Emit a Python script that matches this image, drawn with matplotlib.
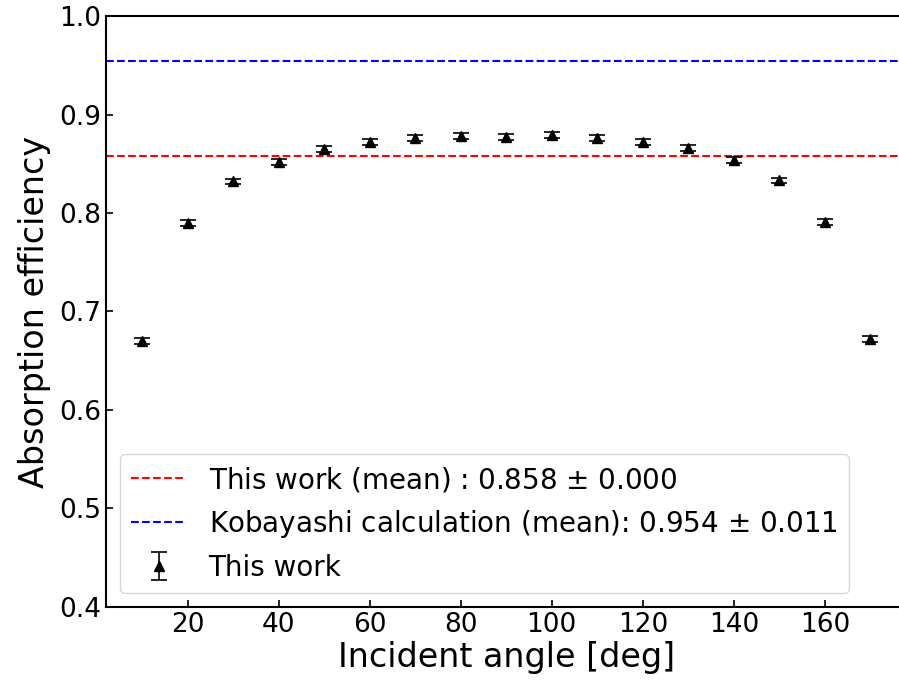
import matplotlib
matplotlib.use("Agg")
import matplotlib.pyplot as plt

# Measured absorption efficiency versus incident angle
angles = [10, 20, 30, 40, 50, 60, 70, 80, 90, 100, 110, 120, 130, 140, 150, 160, 170]
efficiency = [0.670, 0.790, 0.832, 0.852, 0.865, 0.872, 0.876, 0.878, 0.877,
              0.879, 0.876, 0.872, 0.866, 0.854, 0.833, 0.791, 0.672]
efficiency_err = [0.003] * len(angles)

# Reference means
this_work_mean = 0.858
this_work_mean_err = 0.000
kobayashi_mean = 0.954
kobayashi_mean_err = 0.011

fig = plt.figure(figsize=(8.99, 6.84), dpi=100)
ax = fig.add_axes([0.1176, 0.1126, 0.891, 0.864])

ax.axhline(this_work_mean, color="red", linestyle="--", linewidth=1.5,
           label=f"This work (mean) : {this_work_mean:.3f} $\\pm$ {this_work_mean_err:.3f}")
ax.axhline(kobayashi_mean, color="blue", linestyle="--", linewidth=1.5,
           label=f"Kobayashi calculation (mean): {kobayashi_mean:.3f} $\\pm$ {kobayashi_mean_err:.3f}")
ax.errorbar(angles, efficiency, yerr=efficiency_err, fmt="^", color="black",
            markersize=7.5, capsize=6, elinewidth=1.2, capthick=1.2, label="This work")

ax.set_xlim(2, 178)
ax.set_ylim(0.4, 1.0)
ax.set_xticks([20, 40, 60, 80, 100, 120, 140, 160])
ax.set_yticks([0.4, 0.5, 0.6, 0.7, 0.8, 0.9, 1.0])
ax.tick_params(direction="in", labelsize=19, length=5, width=1.2)
for s in ax.spines.values():
    s.set_linewidth(1.5)

ax.set_xlabel("Incident angle [deg]", fontsize=24, labelpad=2)
ax.set_ylabel("Absorption efficiency", fontsize=24, labelpad=6)
ax.legend(loc="lower left", fontsize=20)

fig.savefig("out.png", dpi=100)
